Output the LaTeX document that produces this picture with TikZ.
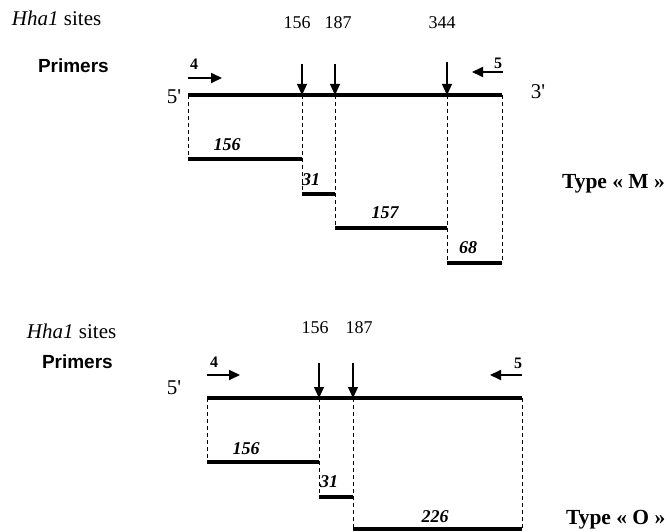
\documentclass[tikz,border=0pt]{standalone}
\usepackage{fontspec}
\setmainfont{Liberation Serif}
\setsansfont{Liberation Sans}
\usetikzlibrary{arrows.meta}
\tikzset{
  txt/.style={inner sep=0pt, outer sep=0pt},
  head/.style={txt, font=\fontsize{21}{21}\selectfont, anchor=base west},
  primtxt/.style={txt, font=\sffamily\bfseries\fontsize{19}{19}\selectfont, anchor=base west},
  sitenum/.style={txt, font=\fontsize{18}{18}\selectfont},
  primnum/.style={txt, font=\bfseries\fontsize{16}{16}\selectfont},
  endlbl/.style={txt, font=\fontsize{21}{21}\selectfont},
  fraglbl/.style={txt, font=\bfseries\itshape\fontsize{18}{18}\selectfont},
  typelbl/.style={txt, font=\bfseries\fontsize{21.5}{21.5}\selectfont, anchor=base west},
  dna/.style={line width=3.8pt},
  frag/.style={line width=3.2pt},
  guide/.style={line width=0.8pt, dash pattern=on 4pt off 3pt},
  sitearrow/.style={line width=1.1pt, -{Triangle[length=11pt,width=10pt]}},
  primarrow/.style={line width=1.8pt, -{Triangle[length=11pt,width=10pt]}}
}
\begin{document}
\begin{tikzpicture}[x=1pt,y=-1pt]
\useasboundingbox[fill=white] (0,0) rectangle (670,532);

% ================= Type M =================
\node[head] (hhaA) at (12,26) {\textit{Hha1} sites};
\node[primtxt] (primA) at (38,73) {Primers};
\node[sitenum] (sA1) at (297,23) {156};
\node[sitenum] (sA2) at (338,23) {187};
\node[sitenum] (sA3) at (442,23) {344};
\node[primnum] (p4A) at (194,64) {4};
\node[primnum] (p5A) at (498,63) {5};
\node[endlbl] (fiveA) at (174,97) {5\textquotesingle};
\node[endlbl] (threeA) at (538,92) {3\textquotesingle};

\coordinate (a0) at (188,95);
\coordinate (a1) at (302,95);
\coordinate (a2) at (335,95);
\coordinate (a3) at (447,95);
\coordinate (a4) at (502,95);
\coordinate (at1) at (302,64);
\coordinate (at2) at (335,64);
\coordinate (at3) at (447,62);
\coordinate (pa4s) at (188,78);
\coordinate (pa4e) at (222,78);
\coordinate (pa5s) at (503,72);
\coordinate (pa5e) at (472,72);

\coordinate (fa0) at (188,159);
\coordinate (fa1) at (302,159);
\coordinate (fb0) at (302,194);
\coordinate (fb1) at (335,194);
\coordinate (fc0) at (335,228);
\coordinate (fc1) at (447,228);
\coordinate (fd0) at (447,263);
\coordinate (fd1) at (502,263);

\draw[guide] (a0) -- (fa0);
\draw[guide] (a1) -- (fb0);
\draw[guide] (a2) -- (fc0);
\draw[guide] (a3) -- (fd0);
\draw[guide] (a4) -- (fd1);

\draw[dna] (a0) -- (a4);
\draw[sitearrow] (at1) -- (a1);
\draw[sitearrow] (at2) -- (a2);
\draw[sitearrow] (at3) -- (a3);
\draw[primarrow] (pa4s) -- (pa4e);
\draw[primarrow] (pa5s) -- (pa5e);

\draw[frag] (fa0) -- (fa1);
\draw[frag] (fb0) -- (fb1);
\draw[frag] (fc0) -- (fc1);
\draw[frag] (fd0) -- (fd1);

\node[fraglbl] (lA1) at (227,145) {156};
\node[fraglbl] (lA2) at (311,180) {31};
\node[fraglbl] (lA3) at (385,213) {157};
\node[fraglbl] (lA4) at (468,248) {68};
\node[typelbl] (typeM) at (562,189) {Type « M »};

% ================= Type O =================
\node[head] (hhaB) at (27,338) {\textit{Hha1} sites};
\node[primtxt] (primB) at (42,368) {Primers};
\node[sitenum] (sB1) at (315,328) {156};
\node[sitenum] (sB2) at (359,328) {187};
\node[primnum] (p4B) at (214,362) {4};
\node[primnum] (p5B) at (518,363) {5};
\node[endlbl] (fiveB) at (174,388) {5\textquotesingle};

\coordinate (b0) at (207,398);
\coordinate (b1) at (319,398);
\coordinate (b2) at (353,398);
\coordinate (b3) at (522,398);
\coordinate (bt1) at (319,363);
\coordinate (bt2) at (353,363);
\coordinate (pb4s) at (207,375);
\coordinate (pb4e) at (240,375);
\coordinate (pb5s) at (522,375);
\coordinate (pb5e) at (490,375);

\coordinate (ga0) at (207,462);
\coordinate (ga1) at (319,462);
\coordinate (gb0) at (319,497);
\coordinate (gb1) at (353,497);
\coordinate (gc0) at (353,529);
\coordinate (gc1) at (522,529);

\draw[guide] (b0) -- (ga0);
\draw[guide] (b1) -- (gb0);
\draw[guide] (b2) -- (gc0);
\draw[guide] (b3) -- (gc1);

\draw[dna] (b0) -- (b3);
\draw[sitearrow] (bt1) -- (b1);
\draw[sitearrow] (bt2) -- (b2);
\draw[primarrow] (pb4s) -- (pb4e);
\draw[primarrow] (pb5s) -- (pb5e);

\draw[frag] (ga0) -- (ga1);
\draw[frag] (gb0) -- (gb1);
\draw[frag] (gc0) -- (gc1);

\node[fraglbl] (lB1) at (246,449) {156};
\node[fraglbl] (lB2) at (329,482) {31};
\node[fraglbl] (lB3) at (435,517) {226};
\node[typelbl] (typeO) at (566,524) {Type « O »};
\end{tikzpicture}
\end{document}
